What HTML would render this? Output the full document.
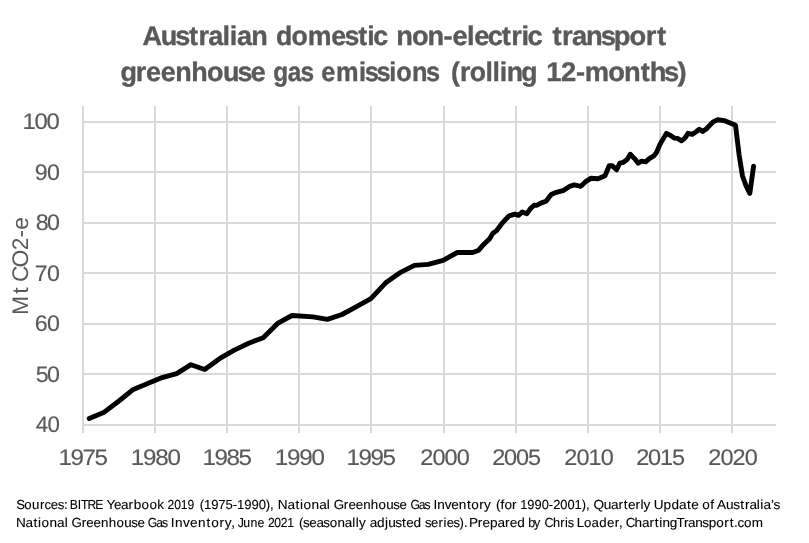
<!DOCTYPE html>
<html lang="en"><head><meta charset="utf-8"><title>Australian domestic non-electric transport greenhouse gas emissions</title>
<style>html,body{margin:0;padding:0;background:#fff}svg{display:block}text{font-family:"Liberation Sans",sans-serif;text-rendering:geometricPrecision}</style></head><body>
<svg width="809" height="543" viewBox="0 0 809 543">
<rect width="809" height="543" fill="#fff"/>
<g stroke="#D9D9D9" stroke-width="2" fill="none">
<line x1="82" y1="122" x2="776" y2="122"/>
<line x1="82" y1="172" x2="776" y2="172"/>
<line x1="82" y1="223" x2="776" y2="223"/>
<line x1="82" y1="273" x2="776" y2="273"/>
<line x1="82" y1="324" x2="776" y2="324"/>
<line x1="82" y1="374" x2="776" y2="374"/>
<line x1="82" y1="425" x2="776" y2="425"/>
<line x1="83" y1="105.9" x2="83" y2="432.9"/>
<line x1="155" y1="105.9" x2="155" y2="432.9"/>
<line x1="227" y1="105.9" x2="227" y2="432.9"/>
<line x1="299" y1="105.9" x2="299" y2="432.9"/>
<line x1="371" y1="105.9" x2="371" y2="432.9"/>
<line x1="444" y1="105.9" x2="444" y2="432.9"/>
<line x1="516" y1="105.9" x2="516" y2="432.9"/>
<line x1="588" y1="105.9" x2="588" y2="432.9"/>
<line x1="660" y1="105.9" x2="660" y2="432.9"/>
<line x1="732" y1="105.9" x2="732" y2="432.9"/>
</g>
<polyline points="89.2,418.5 103.6,412.6 118.9,401.0 133.3,389.4 147.7,383.5 162.1,377.6 176.6,373.6 191.0,364.7 204.7,369.5 219.9,358.4 234.3,350.1 248.7,343.2 263.2,337.8 277.6,323.4 292.0,315.5 313.0,316.9 327.4,319.4 342.0,314.5 356.5,306.6 370.9,298.6 385.7,282.8 399.6,272.9 414.4,265.4 428.2,264.4 443.1,260.4 457.3,252.5 472.7,252.5 478.7,250.2 482.6,245.6 489.6,238.7 492.9,233.3 496.5,230.8 501.4,224.2 504.6,220.5 509.2,215.8 514.8,214.1 518.5,215.3 522.2,212.0 526.7,213.8 530.4,208.6 534.1,205.2 537.1,205.2 540.8,203.1 546.0,201.2 551.2,194.5 556.4,192.3 563.8,190.3 569.7,186.3 574.2,184.9 580.8,186.3 585.3,181.9 591.2,178.2 598.0,178.7 605.0,175.7 609.2,165.8 612.1,165.6 616.6,169.8 619.8,163.2 623.4,162.3 627.1,159.6 630.3,154.2 634.5,158.6 638.2,163.3 641.6,161.1 645.6,161.9 649.3,158.6 653.8,155.9 656.7,152.2 659.7,144.8 662.7,139.6 666.4,133.4 670.1,135.2 674.5,138.1 677.5,138.4 681.5,140.8 684.9,138.1 688.0,133.3 692.2,134.4 695.8,132.0 699.3,129.3 702.6,131.6 706.5,128.8 713.1,121.9 717.7,119.7 724.2,120.6 735.5,125.2 739.1,154.8 742.5,176.0 746.3,186.5 749.8,193.4 753.6,166.1" fill="none" stroke="#000" stroke-width="4.9" stroke-linejoin="round" stroke-linecap="round"/>
<g font-size="27.0" font-weight="bold" fill="#595959" stroke="#595959" stroke-width="0.35">
<text transform="translate(0,45.4) scale(1.0026,1)" x="142.13 160.37 174.81 188.57 197.94 207.81 222.06 229.26 236.35 250.71" y="0">Australian</text>
<text transform="translate(0,45.4) scale(0.9889,1)" x="279.02 294.88 311.08 335.02 348.34 362.2 371.42 377.37" y="0">domestic</text>
<text transform="translate(0,45.4) scale(1.0096,1)" x="392.51 408.01 423.51 439.39 448.08 462.61 469.7 483 497.02 506.4 516.56 522.43" y="0">non-electric</text>
<text transform="translate(0,45.4) scale(1.0134,1)" x="545.12 554.59 564.38 578.34 592.72 605.62 621.28 637.32 648.32" y="0">transport</text>
</g>
<g font-size="27.0" font-weight="bold" fill="#595959" stroke="#595959" stroke-width="0.35">
<text transform="translate(0,81.2) scale(0.9995,1)" x="120.56 135.81 146.08 160.8 175.43 191.29 207.16 223.04 237.6 250.93" y="0">greenhouse</text>
<text transform="translate(0,81.2) scale(0.9041,1)" x="302.29 318.34 332.43" y="0">gas</text>
<text transform="translate(0,81.2) scale(0.9398,1)" x="341.72 357.46 382.08 388.21 400.5 414.21 421.73 438.27 453.42" y="0">emissions</text>
<text transform="translate(0,81.2) scale(0.9860,1)" x="457.52 466.57 476.53 492.38 499.61 506.83 513.84 528.71" y="0">(rolling</text>
<text transform="translate(0,81.2) scale(1.0134,1)" x="538.99 553.63 568.35 577.08 600.32 615.83 632.17 641.08 655.32 668.56" y="0">12-months)</text>
</g>
<g font-size="13.1" font-weight="normal" fill="#000" stroke="#000" stroke-width="0.1">
<text transform="translate(0,508.9) scale(1.0035,1)" x="16.14 24.14 31.92 39.8 44.32 50.65 57.58 63.87" y="0">Sources:</text>
<text transform="translate(0,508.9) scale(0.9262,1)" x="75.44 83.93 87.45 94.57 102.75" y="0">BITRE</text>
<text transform="translate(0,508.9) scale(1.0285,1)" x="103.55 110.94 117.55 125.04 129.99 137.69 145.4 152.94" y="0">Yearbook</text>
<text transform="translate(0,508.9) scale(0.9262,1)" x="180.85 188.05 195.26 202.46" y="0">2019</text>
<text transform="translate(0,508.9) scale(1.0007,1)" x="199.57 203.86 211.05 218.23 225.41 232.61 236.93 244.11 251.29 258.47 265.65 269.92" y="0">(1975-1990),</text>
<text transform="translate(0,508.9) scale(1.0381,1)" x="267.56 276.91 284.64 289.03 292.36 300.1 307.49 314.88" y="0">National</text>
<text transform="translate(0,508.9) scale(1.0157,1)" x="328.56 338.51 343.07 350.16 357.54 365.12 372.71 380.31 387.29 393.33" y="0">Greenhouse</text>
<text transform="translate(0,508.9) scale(0.9262,1)" x="443.22 452.04 458.24" y="0">Gas</text>
<text transform="translate(0,508.9) scale(1.0381,1)" x="417.54 421.27 428.49 434.71 441.94 449.84 454.04 461.68 466.35" y="0">Inventory</text>
<text transform="translate(0,508.9) scale(1.0381,1)" x="477.78 482.21 486 493.1" y="0">(for</text>
<text transform="translate(0,508.9) scale(0.9827,1)" x="529.35 536.64 543.92 551.2 558.5 562.88 570.17 577.45 584.73 592.01 596.34" y="0">1990-2001),</text>
<text transform="translate(0,508.9) scale(1.0381,1)" x="571.79 581.59 588.61 595.83 600.96 604.89 612.17 616.93 619.89" y="0">Quarterly</text>
<text transform="translate(0,508.9) scale(1.0381,1)" x="629.74 639.27 646.87 654.14 661.77 665.84" y="0">Update</text>
<text transform="translate(0,508.9) scale(1.0381,1)" x="676.4 684.15" y="0">of</text>
<text transform="translate(0,508.9) scale(1.0381,1)" x="690.75 699.45 706.44 713.04 717.55 721.96 729.08 732.4 735.38 742.8 745.21" y="0">Australia’s</text>
</g>
<g font-size="13.1" font-weight="normal" fill="#000" stroke="#000" stroke-width="0.1">
<text transform="translate(0,526.8) scale(1.0381,1)" x="15.38 24.65 32.33 36.69 39.97 47.65 54.97 62.31" y="0">National</text>
<text transform="translate(0,526.8) scale(1.0157,1)" x="70.5 80.45 85.01 92.1 99.48 107.06 114.65 122.25 129.23 135.27" y="0">Greenhouse</text>
<text transform="translate(0,526.8) scale(0.9262,1)" x="159.58 168.59 174.93" y="0">Gas</text>
<text transform="translate(0,526.8) scale(1.0381,1)" x="164.58 168.68 176.34 182.98 190.68 198.95 203.55 211.57 216.61 222.88" y="0">Inventory,</text>
<text transform="translate(0,526.8) scale(0.9398,1)" x="253.02 258.87 266.59 274.11" y="0">June</text>
<text transform="translate(0,526.8) scale(0.9262,1)" x="289.25 296.24 303.23 310.22" y="0">2021</text>
<text transform="translate(0,526.8) scale(1.0245,1)" x="291.76 295.7 301.76 308.82 315.47 321.75 329.36 336.62 343.89 347.21 350.35" y="0">(seasonally</text>
<text transform="translate(0,526.8) scale(1.0381,1)" x="356.12 363.22 370.78 374.02 380.86 387.35 391.28 398.44" y="0">adjusted</text>
<text transform="translate(0,526.8) scale(0.9971,1)" x="426.13 432.25 439.86 444.8 447.94 454.79 460.94 465.35" y="0">series).</text>
<text transform="translate(0,526.8) scale(1.0381,1)" x="451.83 460.18 464.72 471.97 479.17 486.54 491.08 498.33" y="0">Prepared</text>
<text transform="translate(0,526.8) scale(0.9535,1)" x="553.95 560.17" y="0">by</text>
<text transform="translate(0,526.8) scale(0.9699,1)" x="561.43 570.05 577.7 582.54 585.26" y="0">Chris</text>
<text transform="translate(0,526.8) scale(1.0083,1)" x="572.14 579.23 586.75 594.26 601.9 609.69 613.88" y="0">Loader,</text>
<text transform="translate(0,526.8) scale(1.0315,1)" x="606.59 615.19 622.32 629.64 634.86 639.17 642.32 649.4 655.85 663.15 667 673.99 680.86 687.01 694.48 702.15 707.36 711.54 714.9 721.22 728.79" y="0">ChartingTransport.com</text>
</g>
<g font-size="22.6" font-weight="normal" fill="#595959" stroke="#595959" stroke-width="0.15">
<text transform="translate(0,432.1) scale(0.9877,1)" x="36.24 48.04" y="0">40</text>
</g>
<g font-size="22.6" font-weight="normal" fill="#595959" stroke="#595959" stroke-width="0.15">
<text transform="translate(0,381.6) scale(1.0278,1)" x="34.83 45.7" y="0">50</text>
</g>
<g font-size="22.6" font-weight="normal" fill="#595959" stroke="#595959" stroke-width="0.15">
<text transform="translate(0,331.1) scale(1.0278,1)" x="33.83 45.7" y="0">60</text>
</g>
<g font-size="22.6" font-weight="normal" fill="#595959" stroke="#595959" stroke-width="0.15">
<text transform="translate(0,280.6) scale(1.0278,1)" x="33.83 45.7" y="0">70</text>
</g>
<g font-size="22.6" font-weight="normal" fill="#595959" stroke="#595959" stroke-width="0.15">
<text transform="translate(0,230.1) scale(1.0278,1)" x="34.83 45.7" y="0">80</text>
</g>
<g font-size="22.6" font-weight="normal" fill="#595959" stroke="#595959" stroke-width="0.15">
<text transform="translate(0,179.6) scale(1.0278,1)" x="33.83 45.7" y="0">90</text>
</g>
<g font-size="22.6" font-weight="normal" fill="#595959" stroke="#595959" stroke-width="0.15">
<text transform="translate(0,129.1) scale(1.0569,1)" x="21.42 32.76 44.11" y="0">100</text>
</g>
<g font-size="22.6" font-weight="normal" fill="#595959" stroke="#595959" stroke-width="0.15">
<text transform="translate(0,464.8) scale(1.0719,1)" x="54.69 65.86 77.03 88.19" y="0">1975</text>
<text transform="translate(0,464.8) scale(1.0699,1)" x="122.1 133.57 145.05 156.52" y="0">1980</text>
<text transform="translate(0,464.8) scale(1.0719,1)" x="189.03 200.2 211.36 222.53" y="0">1985</text>
<text transform="translate(0,464.8) scale(1.0699,1)" x="256.69 268.17 279.64 291.12" y="0">1990</text>
<text transform="translate(0,464.8) scale(1.0719,1)" x="323.36 334.53 345.7 356.86" y="0">1995</text>
<text transform="translate(0,464.8) scale(1.0377,1)" x="404.9 416.68 428.46 440.25" y="0">2000</text>
<text transform="translate(0,464.8) scale(1.0391,1)" x="473.66 485.13 496.61 508.08" y="0">2005</text>
<text transform="translate(0,464.8) scale(1.0377,1)" x="543.66 555.45 567.23 579.02" y="0">2010</text>
<text transform="translate(0,464.8) scale(1.0391,1)" x="612.24 623.72 635.19 646.67" y="0">2015</text>
<text transform="translate(0,464.8) scale(1.0377,1)" x="682.43 694.22 706 717.78" y="0">2020</text>
</g>
<text transform="translate(28.3,314.1) rotate(-90) scale(1.0096,1)" x="-1 20.25 27.3 31.8 46.07 63.17 75.91 83.48" y="0" font-size="22.6" fill="#595959">Mt CO2-e</text>
</svg></body></html>
